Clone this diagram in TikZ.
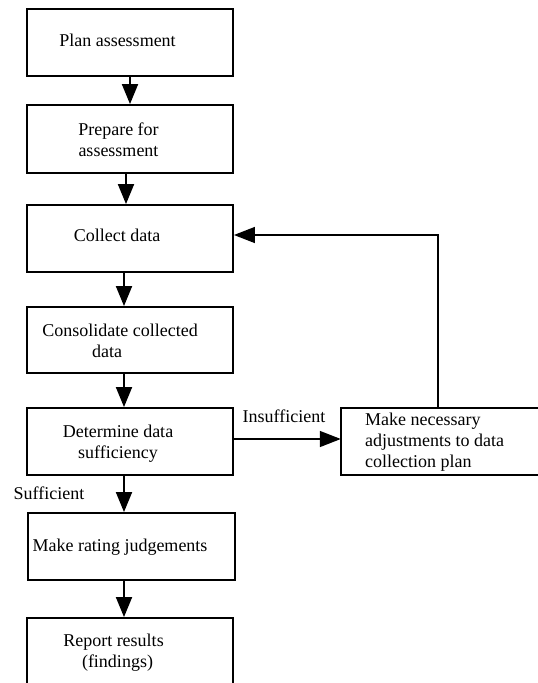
\documentclass[tikz,border=0pt]{standalone}
\usepackage{fontspec}
\setmainfont{Liberation Serif}
\usetikzlibrary{arrows.meta}
\begin{document}
\begin{tikzpicture}[x=1pt,y=-1pt,
  box/.style={draw,line width=1.9pt,rectangle,minimum width=206pt,minimum height=67pt,inner sep=0pt},
  sidebox/.style={rectangle,minimum width=230pt,minimum height=67pt,inner sep=0pt},
  txt/.style={font=\fontsize{18}{21}\selectfont,align=center,inner sep=0pt},
  arr/.style={line width=1.9pt,-{Triangle[length=20pt,width=16pt]}},
  farr/.style={line width=1.5pt,-{Triangle[length=21pt,width=16pt]}}]
\useasboundingbox (0,0) rectangle (538,683);
\clip (0,0) rectangle (538,683);
\fill[white] (0,0) rectangle (538,683);
% boxes
\node[box] (b1) at (130,42.5) {};
\node[box,minimum height=68pt] (b2) at (130,139) {};
\node[box] (b3) at (130,238.5) {};
\node[box,minimum height=66pt] (b4) at (130,340) {};
\node[box] (b5) at (130,441.5) {};
\node[box,minimum width=207pt] (b6) at (131.5,546.5) {};
\node[box] (b7) at (130,651.5) {};
\node[sidebox] (rb) at (456,441.5) {};
\draw[line width=1.6pt] (rb.north east) -- (rb.north west) -- (rb.south west) -- (rb.south east);
% texts
\node[txt] (t1) at (117.5,42) {\strut Plan assessment};
\node[txt] (t2) at (118.5,141.5) {\strut Prepare for\\\strut assessment};
\node[txt] (t3) at (117,237) {\strut Collect data};
\node[txt] (t4) at (120,343) {\strut Consolidate collected\\\strut data\hspace*{26pt}};
\node[txt] (t5) at (118,443.5) {\strut Determine data\\\strut sufficiency};
\node[txt] (t6) at (120,547) {\strut Make rating judgements};
\node[txt] (t7) at (113.5,652.5) {\strut Report results\\\strut\hspace*{8pt}(findings)};
\node[txt,align=left,anchor=west] (t8) at (365,442.5) {\strut Make necessary\\\strut adjustments to data\\\strut collection plan};
\node[txt] (ls) at (49,495) {\strut Sufficient};
\node[txt] (li) at (284,418) {\strut Insufficient};
% connectors
\draw[arr] (b1.south) -- (b2.north);
\draw[arr] ([xshift=-4pt]b2.south) -- ([xshift=-4pt]b3.north);
\draw[arr] ([xshift=-6pt]b3.south) -- ([xshift=-6pt]b4.north);
\draw[arr] ([xshift=-6pt]b4.south) -- ([xshift=-6pt]b5.north);
\draw[arr] ([xshift=-6pt]b5.south) -- ([xshift=-7.5pt]b6.north);
\draw[arr] ([xshift=-7.5pt]b6.south) -- ([xshift=-6pt]b7.north);
\draw[farr] ([yshift=2.5pt]b5.east) -- ([yshift=2.5pt]rb.west);
\draw[farr] ([xshift=-18pt]rb.north) |- ([yshift=3.5pt]b3.east);
\end{tikzpicture}
\end{document}
